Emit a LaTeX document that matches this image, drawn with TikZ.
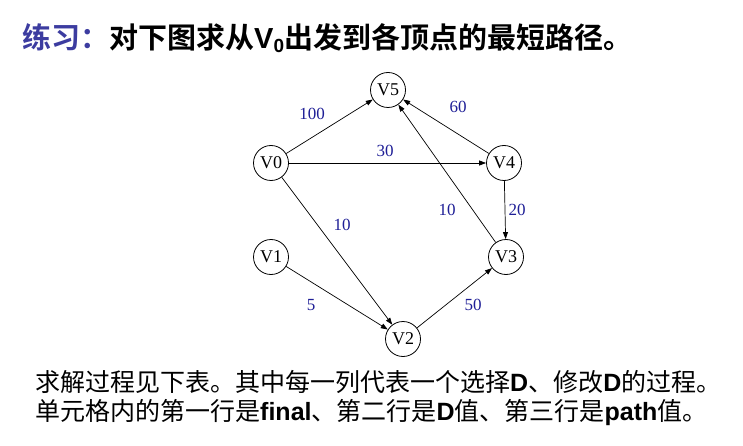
\documentclass[tikz,border=0pt]{standalone}
\usepackage{fontspec}
\setmainfont{Liberation Serif}
\newfontfamily\cjkbold{Noto Sans CJK SC Bold}
\newfontfamily\cjkreg{Noto Sans CJK SC}
\newfontfamily\latbold{Liberation Sans Bold}
\usetikzlibrary{arrows.meta}
\definecolor{titleblue}{RGB}{60,60,160}
\definecolor{wblue}{RGB}{30,30,150}
\tikzset{
  vtx/.style={draw, circle, minimum size=35pt, inner sep=0pt, line width=0.8pt, font=\fontsize{18}{18}\selectfont},
  edge/.style={-{Triangle[length=7pt,width=5pt]}, line width=0.7pt},
  wt/.style={text=wblue, font=\fontsize{17}{17}\selectfont, inner sep=0pt},
  txt/.style={anchor=west, inner sep=0pt}
}
\begin{document}
\begin{tikzpicture}[x=1pt,y=-1pt]
\useasboundingbox (0,0) rectangle (743,446);
\node[txt] (title) at (22,38) {\fontsize{29}{29}\selectfont\cjkbold\textcolor{titleblue}{练习：}对下图求从{\latbold V\raisebox{-4pt}{\fontsize{19}{19}\selectfont 0}}出发到各顶点的最短路径。};
\node[vtx] (v5) at (388,90) {V5};
\node[vtx] (v0) at (271,163) {V0};
\node[vtx] (v4) at (504,163) {V4};
\node[vtx] (v1) at (271,257) {V1};
\node[vtx] (v3) at (506,257) {V3};
\node[vtx] (v2) at (403,339) {V2};
\draw[edge] (v0) -- (v5);
\draw[edge] (v0) -- (v4);
\draw[edge] (v0) -- (v2);
\draw[edge] (v4) -- (v5);
\draw[edge] (v4) -- (v3);
\draw[edge] (v3) -- (v5);
\draw[edge] (v1) -- (v2);
\draw[edge] (v2) -- (v3);
\node[wt] (w05) at (312,114) {100};
\node[wt] (w45) at (458,107) {60};
\node[wt] (w04) at (385,151) {30};
\node[wt] (w35) at (447,210) {10};
\node[wt] (w43) at (517,210) {20};
\node[wt] (w02) at (342,225) {10};
\node[wt] (w12) at (311,305) {5};
\node[wt] (w23) at (473,305) {50};
\node[txt] (line1) at (35,382) {\fontsize{25}{25}\selectfont\cjkreg 求解过程见下表。其中每一列代表一个选择{\latbold D}、修改{\latbold D}的过程。};
\node[txt] (line2) at (35,413) {\fontsize{25}{25}\selectfont\cjkreg 单元格内的第一行是{\latbold final}、第二行是{\latbold D}值、第三行是{\latbold path}值。};
\end{tikzpicture}
\end{document}
